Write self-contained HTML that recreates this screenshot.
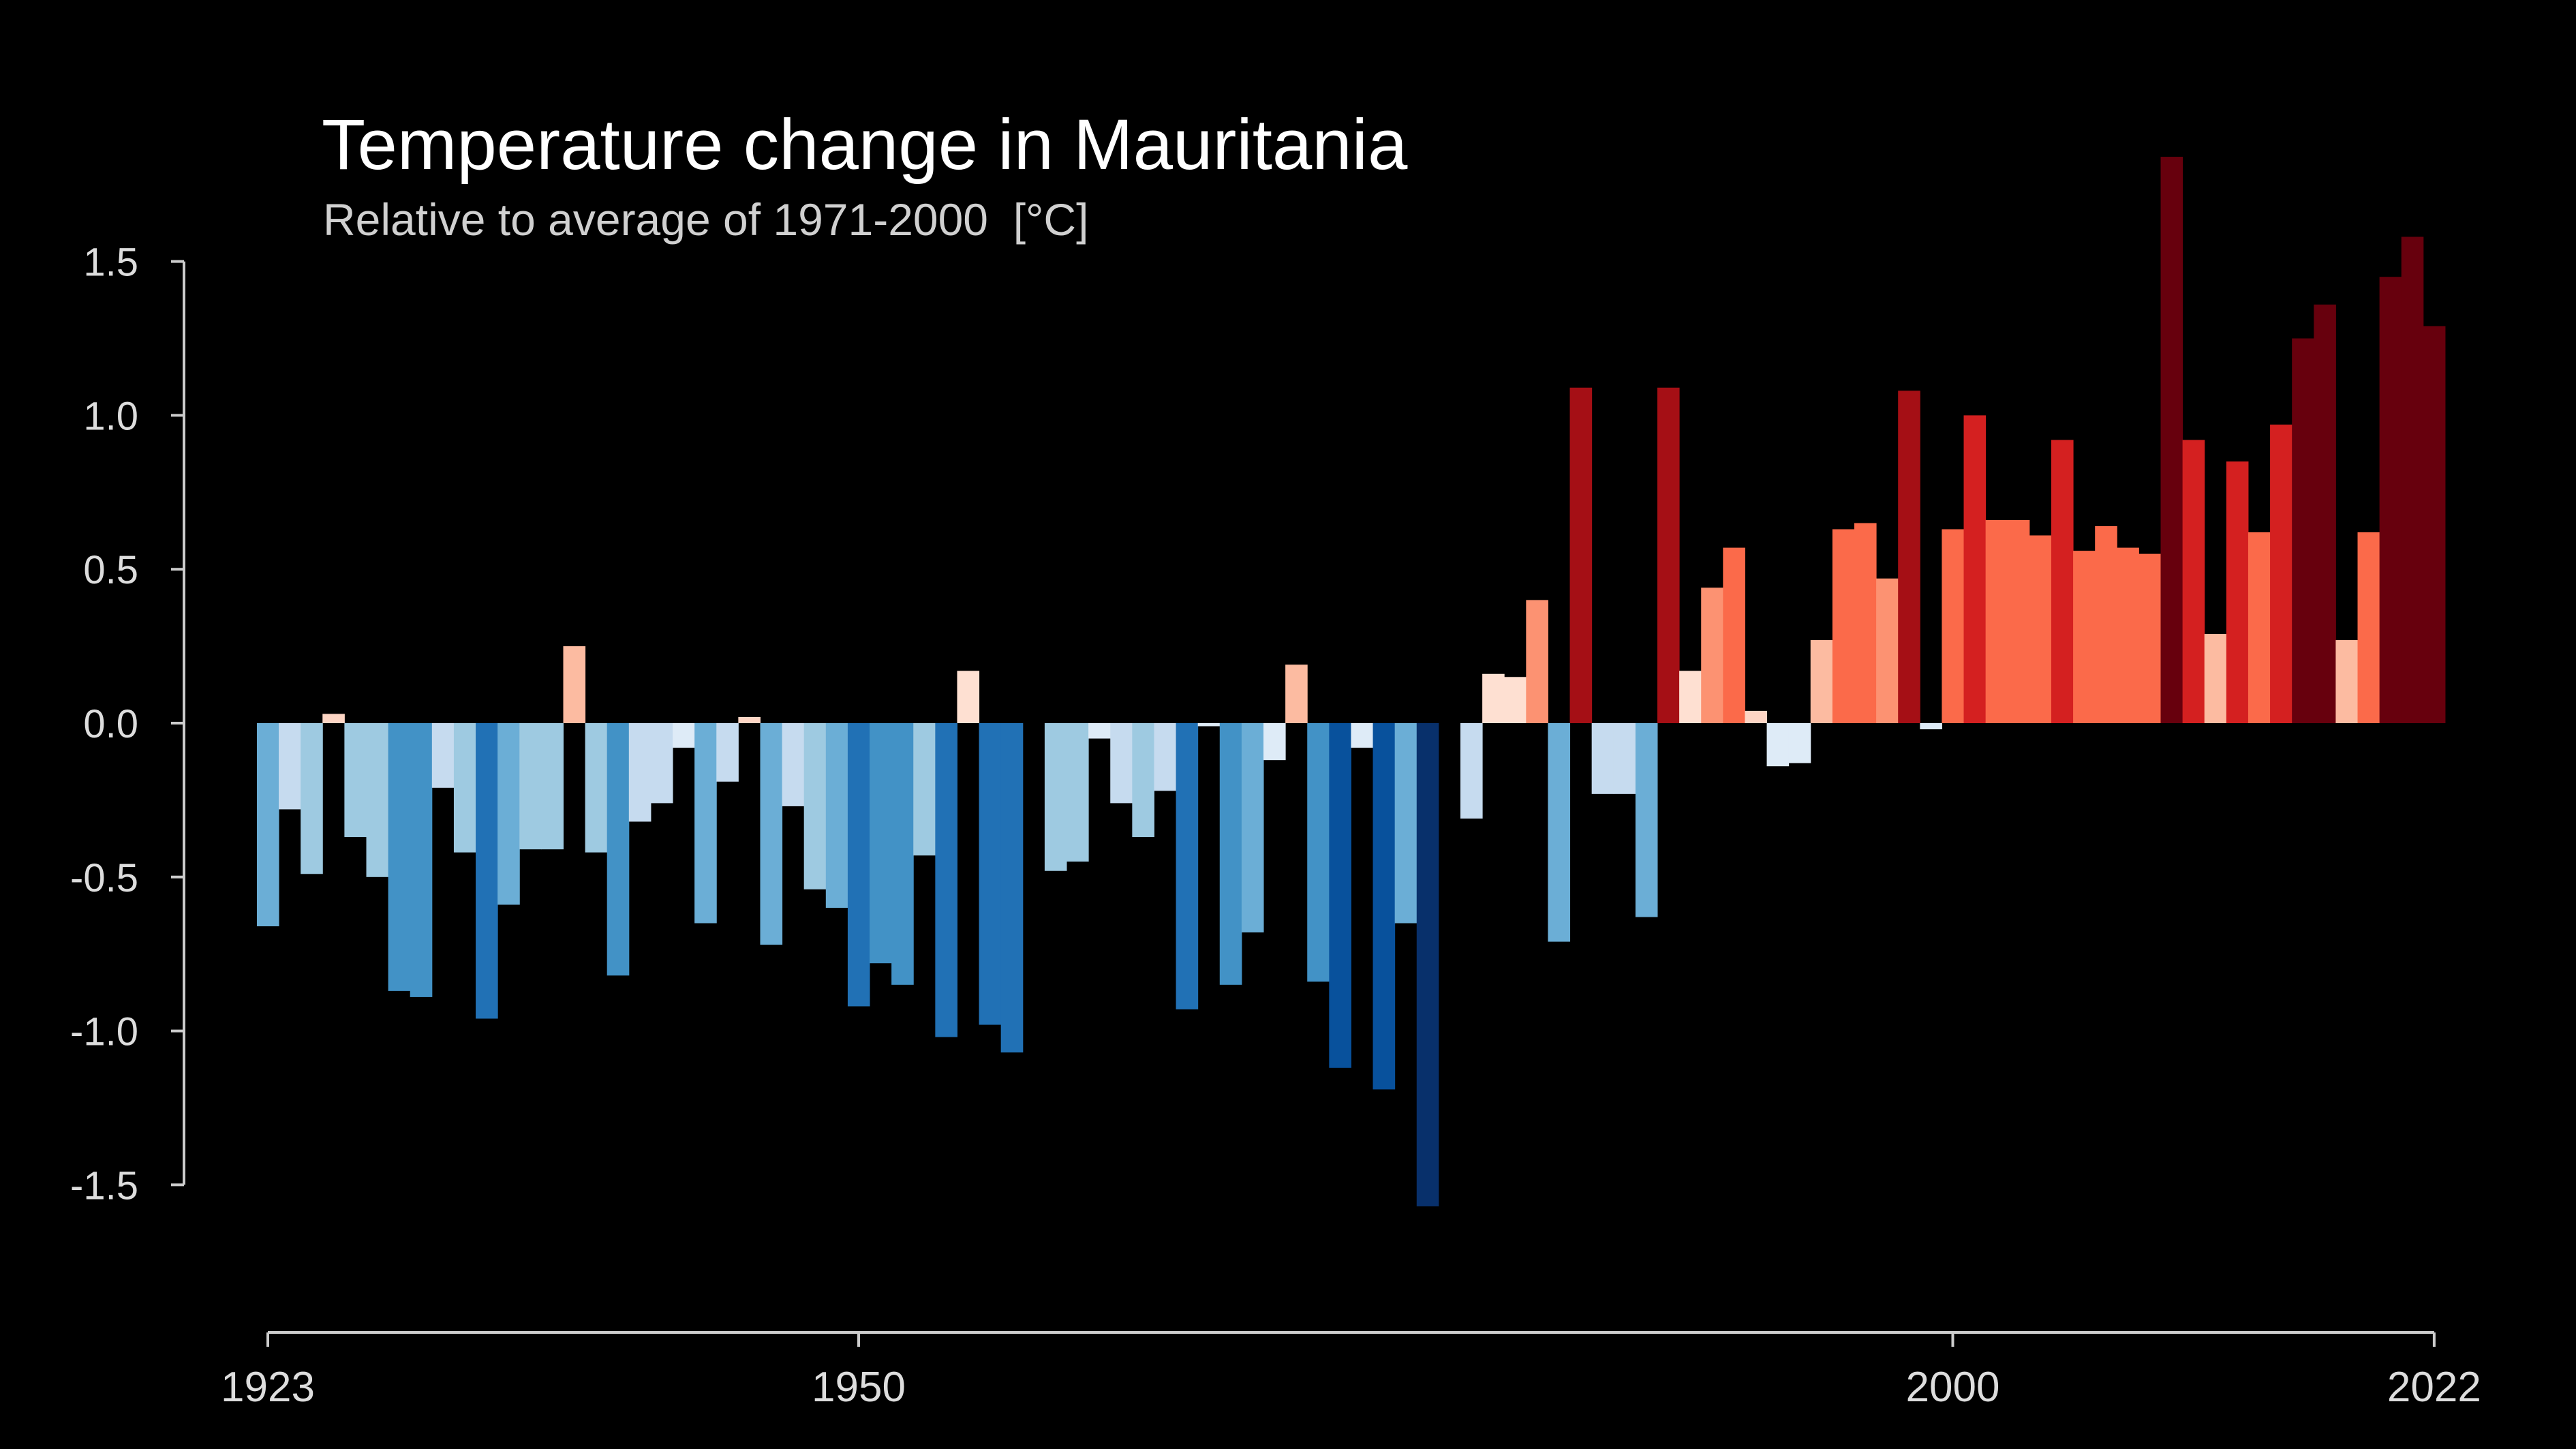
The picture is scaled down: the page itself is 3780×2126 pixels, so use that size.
<!DOCTYPE html>
<html><head><meta charset="utf-8">
<style>
html,body{margin:0;padding:0;background:#000;}
svg{display:block;}
text{font-family:"Liberation Sans",Arial,sans-serif;}
</style></head>
<body>
<svg id="chart" width="3780" height="2126" viewBox="0 0 3780 2126" xmlns="http://www.w3.org/2000/svg">
<rect width="3780" height="2126" fill="#000"/>
<text x="472" y="248" fill="#fff" font-size="105">Temperature change in Mauritania</text>
<text x="474" y="345" fill="#d0d0d0" font-size="66">Relative to average of 1971-2000&#160; [°C]</text>
<g id="bars"></g>
<g id="yaxis"></g>
<g id="xaxis"></g>
</svg>
<script>
const startYear = 1923;
const anomalies = [
-0.66,-0.28,-0.49,0.03,-0.37,-0.50,-0.87,-0.89,-0.21,-0.42,
-0.96,-0.59,-0.41,-0.41,0.25,-0.42,-0.82,-0.32,-0.26,-0.08,
-0.65,-0.19,0.02,-0.72,-0.27,-0.54,-0.60,-0.92,-0.78,-0.85,
-0.43,-1.02,0.17,-0.98,-1.07,0.00,-0.48,-0.45,-0.05,-0.26,
-0.37,-0.22,-0.93,-0.01,-0.85,-0.68,-0.12,0.19,-0.84,-1.12,
-0.08,-1.19,-0.65,-1.57,0.00,-0.31,0.16,0.15,0.40,-0.71,
1.09,-0.23,-0.23,-0.63,1.09,0.17,0.44,0.57,0.04,-0.14,
-0.13,0.27,0.63,0.65,0.47,1.08,-0.02,0.63,1.00,0.66,
0.66,0.61,0.92,0.56,0.64,0.57,0.55,1.84,0.92,0.29,
0.85,0.62,0.97,1.25,1.36,0.27,0.62,1.45,1.58,1.29];
const yTicks = [1.5,1.0,0.5,0.0,-0.5,-1.0,-1.5];
const yTickLabels = ["1.5","1.0","0.5","0.0","-0.5","-1.0","-1.5"];
const xTicks = [1923,1950,2000,2022];

const NS = "http://www.w3.org/2000/svg";
const X0 = 393, YEARW = 32.11, Y0 = 1061, UNIT = 451.6;
const xs = yr => X0 + (yr - startYear) * YEARW;
const ys = v => Y0 - v * UNIT;
function color(v){
  if(v<=-1.3) return "#08306b";
  if(v<=-1.1) return "#08519c";
  if(v<=-0.9) return "#2171b5";
  if(v<=-0.75) return "#4292c6";
  if(v<=-0.55) return "#6baed6";
  if(v<=-0.35) return "#9ecae1";
  if(v<=-0.15) return "#c6dbef";
  if(v<0) return "#deebf7";
  if(v<0.1) return "#fdd5c4";
  if(v<0.18) return "#fee0d2";
  if(v<0.35) return "#fcbba1";
  if(v<0.5) return "#fc9272";
  if(v<0.75) return "#fb6a4a";
  if(v<1.05) return "#d42020";
  if(v<1.2) return "#a50f15";
  return "#67000d";
}
function mk(tag, attrs, parent){
  const e=document.createElementNS(NS,tag);
  for(const k in attrs) e.setAttribute(k,attrs[k]);
  parent.appendChild(e); return e;
}
const bars=document.getElementById("bars");
anomalies.forEach((v,i)=>{
  const yr=startYear+i;
  const y1=ys(Math.max(v,0)), y2=ys(Math.min(v,0));
  const r=mk("rect",{x:xs(yr)-YEARW/2,y:y1,width:YEARW+0.5,height:Math.max(y2-y1,0),fill:color(v)},bars);
  
  
});
const ya=document.getElementById("yaxis");
const axL=mk("line",{x1:270,x2:270,y1:ys(1.5),y2:ys(-1.5),stroke:"#ccc","stroke-width":4},ya);


yTicks.forEach((t,i)=>{
  const l=mk("line",{x1:251,x2:270,y1:ys(t),y2:ys(t),stroke:"#ccc","stroke-width":4},ya);
  
  
  const tx=mk("text",{x:203,y:ys(t)+21,fill:"#ddd","font-size":58,"text-anchor":"end"},ya);
  tx.textContent=yTickLabels[i];
  
  
});
const xa=document.getElementById("xaxis");
const xl=mk("line",{x1:xs(1923),x2:xs(2022),y1:1955,y2:1955,stroke:"#ccc","stroke-width":4},xa);


xTicks.forEach(t=>{
  const l=mk("line",{x1:xs(t),x2:xs(t),y1:1955,y2:1976,stroke:"#ccc","stroke-width":4},xa);
  
  
  const tx=mk("text",{x:xs(t),y:2056,fill:"#ddd","font-size":62,"text-anchor":"middle"},xa);
  tx.textContent=String(t);
  
  
});
</script>
</body></html>
